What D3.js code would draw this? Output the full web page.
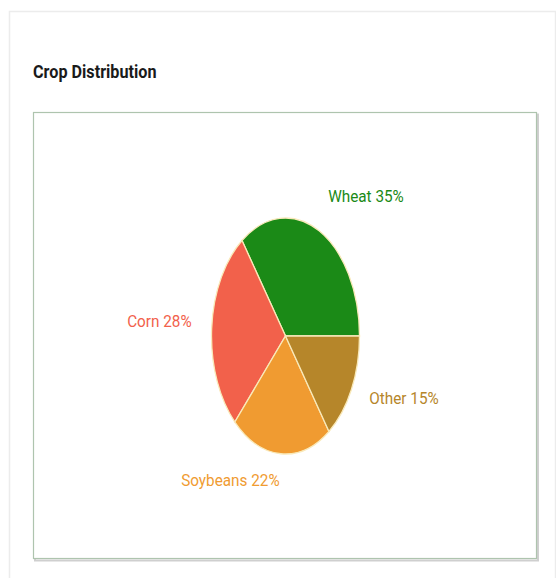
<!DOCTYPE html>
<html>
<head>
<meta charset="utf-8">
<script src="https://cdn.jsdelivr.net/npm/d3@7"></script>
<style>
  body { margin: 0; background: #fff; }
  svg { display: block; }
</style>
</head>
<body>
<div id="chart"></div>
<script>
var W = 556, H = 578;

// data
var categories = ['Wheat', 'Corn', 'Soybeans', 'Other'];
var shares = [35, 28, 22, 15];
var colours = ['#1b8a17', '#f2614b', '#f09b31', '#b6862a'];

var cx = 285.5, cy = 336;
var radius = 118;      // vertical radius of the (stretched) pie
var squeeze = 0.627;   // pie is drawn as an ellipse
var labelR = 150;

var svg = d3.select('#chart')
  .append('svg')
  .attr('width', W).attr('height', H);

// outer card
svg.append('rect')
  .attr('x', 9.5).attr('y', 11.5)
  .attr('width', 546).attr('height', 620)
  .attr('fill', '#fff')
  .attr('stroke', '#ececec').attr('stroke-width', 1.5);

svg.append('text')
  .attr('transform', 'translate(33,78) scale(0.9,1)')
  .attr('font-family', 'Roboto, sans-serif')
  .attr('font-weight', 'bold')
  .attr('font-size', 18)
  .attr('fill', '#1a1a1a')
  .text('Crop Distribution');

// chart frame + shadow
svg.append('rect')
  .attr('x', 35).attr('y', 114.5)
  .attr('width', 503).attr('height', 446)
  .attr('fill', 'none')
  .attr('stroke', '#cfcfcf').attr('stroke-width', 2);
svg.append('rect')
  .attr('x', 33.5).attr('y', 112.5)
  .attr('width', 503).attr('height', 446)
  .attr('fill', '#fff')
  .attr('stroke', '#aec4ae').attr('stroke-width', 1.2);

var pie = d3.pie()
  .sort(null)
  .value(function(d) { return d; })
  .startAngle(Math.PI / 2)
  .endAngle(Math.PI / 2 - 2 * Math.PI);

var arcs = pie(shares);
var arc = d3.arc().innerRadius(0).outerRadius(radius);

var g = svg.append('g')
  .attr('transform', 'translate(' + cx + ',' + cy + ') scale(' + squeeze + ',1)');

g.selectAll('path')
  .data(arcs)
  .enter().append('path')
  .attr('d', arc)
  .attr('fill', function(d, i) { return colours[i]; })
  .attr('stroke', '#f9e9b9')
  .attr('stroke-width', 1.3)
  .attr('vector-effect', 'non-scaling-stroke');

svg.selectAll('text.lbl')
  .data(arcs)
  .enter().append('text')
  .attr('class', 'lbl')
  .attr('transform', function(d) {
    var a = (d.startAngle + d.endAngle) / 2;
    var x = cx + squeeze * labelR * Math.sin(a);
    var y = cy - labelR * Math.cos(a);
    return 'translate(' + x + ',' + y + ') scale(0.9,1)';
  })
  .attr('text-anchor', function(d) {
    var a = (d.startAngle + d.endAngle) / 2;
    return Math.sin(a) > 0 ? 'start' : 'end';
  })
  .attr('font-family', 'Roboto, sans-serif')
  .attr('font-size', 17)
  .attr('fill', function(d, i) { return colours[i]; })
  .text(function(d, i) { return categories[i] + ' ' + shares[i] + '%'; });
</script>
</body>
</html>
